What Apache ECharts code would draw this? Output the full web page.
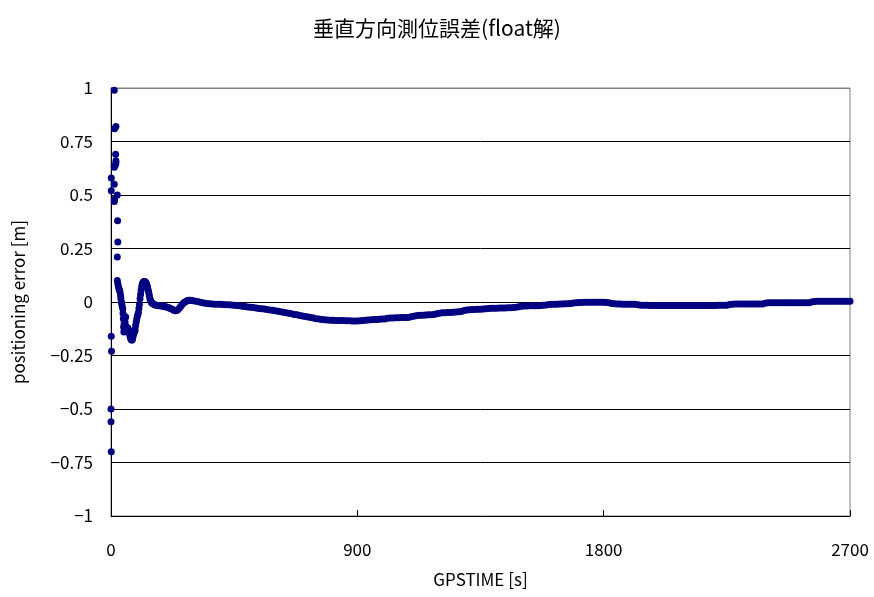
<!DOCTYPE html>
<html>
<head>
<meta charset="utf-8">
<script src="https://cdn.jsdelivr.net/npm/echarts@6/dist/echarts.min.js"></script>
<style>
html,body{margin:0;padding:0;background:#fff;}
#chart{width:874px;height:597px;}
</style>
</head>
<body>
<div id="chart"></div>
<script>
// Initial scattered epochs (time [s], error [m])
const outlierTime = [0, 0, 1, 1, 2, 1, 1, 12, 13, 18, 17, 18, 18, 16, 12, 12, 23, 12, 13, 24, 25, 23];
const outlierError = [-0.50, -0.56, -0.70, -0.16, -0.23, 0.58, 0.52, 0.99, 0.81, 0.82, 0.69, 0.66, 0.65, 0.64, 0.63, 0.55, 0.50, 0.47, 0.48, 0.38, 0.28, 0.21];

// Early convergence (time [s], error [m])
const earlyTime = [23, 25, 27, 29, 31, 33, 35, 36, 38, 39, 41, 43, 44, 45, 46, 47, 48, 49, 50, 51, 52, 53, 54, 55, 57, 59, 61, 63, 65, 67, 69, 71, 73, 75, 77, 79, 81, 83, 85, 87, 88, 90, 92, 94, 96, 98, 100, 102, 104, 106, 108, 110, 112, 114, 116, 118, 120, 122, 124, 126, 128, 130, 132, 134, 136, 138, 140, 142, 144, 146, 148, 150, 153, 156, 160, 165, 170, 175, 180, 185, 190, 195, 200, 205, 210, 215, 220, 225, 230, 235, 240, 245, 250, 255, 260, 265, 270, 275, 280, 285, 290, 295];
const earlyError = [0.100, 0.085, 0.073, 0.063, 0.055, 0.047, 0.030, 0.016, 0.000, -0.007, -0.020, -0.031, -0.054, -0.078, -0.117, -0.140, -0.100, -0.130, -0.090, -0.093, -0.120, -0.110, -0.070, -0.125, -0.132, -0.128, -0.120, -0.124, -0.135, -0.146, -0.156, -0.166, -0.174, -0.178, -0.178, -0.170, -0.158, -0.148, -0.140, -0.135, -0.130, -0.110, -0.095, -0.080, -0.068, -0.060, -0.050, -0.030, -0.010, 0.015, 0.035, 0.055, 0.070, 0.082, 0.089, 0.093, 0.095, 0.096, 0.095, 0.093, 0.089, 0.084, 0.076, 0.065, 0.055, 0.043, 0.030, 0.016, 0.008, 0.002, -0.002, -0.005, -0.008, -0.010, -0.013, -0.015, -0.016, -0.017, -0.018, -0.019, -0.020, -0.021, -0.022, -0.024, -0.026, -0.029, -0.032, -0.035, -0.038, -0.041, -0.040, -0.035, -0.028, -0.020, -0.012, -0.005, 0.000, 0.004, 0.007, 0.008, 0.008, 0.007];

// Remaining session (time [s], error [m])
const mainTime = [300, 310, 320, 330, 340, 350, 360, 370, 380, 390, 400, 410, 420, 430, 440, 450, 460, 470, 480, 490, 500, 510, 520, 530, 540, 550, 560, 570, 580, 590, 600, 610, 620, 630, 640, 650, 660, 670, 680, 690, 700, 710, 720, 730, 740, 750, 760, 770, 780, 790, 800, 810, 820, 830, 840, 850, 860, 870, 880, 890, 900, 910, 920, 930, 940, 950, 960, 970, 980, 990, 1000, 1010, 1020, 1030, 1040, 1050, 1060, 1070, 1080, 1090, 1100, 1110, 1120, 1130, 1140, 1150, 1160, 1170, 1180, 1190, 1200, 1210, 1220, 1230, 1240, 1250, 1260, 1270, 1280, 1290, 1300, 1310, 1320, 1330, 1340, 1350, 1360, 1370, 1380, 1390, 1400, 1410, 1420, 1430, 1440, 1450, 1460, 1470, 1480, 1490, 1500, 1510, 1520, 1530, 1540, 1550, 1560, 1570, 1580, 1590, 1600, 1610, 1620, 1630, 1640, 1650, 1660, 1670, 1680, 1690, 1700, 1710, 1720, 1730, 1740, 1750, 1760, 1770, 1780, 1790, 1800, 1810, 1820, 1830, 1840, 1850, 1860, 1870, 1880, 1890, 1900, 1910, 1920, 1930, 1940, 1950, 1960, 1970, 1980, 1990, 2000, 2010, 2020, 2030, 2040, 2050, 2060, 2070, 2080, 2090, 2100, 2110, 2120, 2130, 2140, 2150, 2160, 2170, 2180, 2190, 2200, 2210, 2220, 2230, 2240, 2250, 2260, 2270, 2280, 2290, 2300, 2310, 2320, 2330, 2340, 2350, 2360, 2370, 2380, 2390, 2400, 2410, 2420, 2430, 2440, 2450, 2460, 2470, 2480, 2490, 2500, 2510, 2520, 2530, 2540, 2550, 2560, 2570, 2580, 2590, 2600, 2610, 2620, 2630, 2640, 2650, 2660, 2670, 2680, 2690, 2700];
const mainError = [0.006, 0.004, 0.001, -0.002, -0.005, -0.007, -0.008, -0.009, -0.010, -0.010, -0.011, -0.012, -0.013, -0.013, -0.014, -0.015, -0.016, -0.018, -0.020, -0.021, -0.023, -0.025, -0.026, -0.028, -0.030, -0.032, -0.033, -0.035, -0.037, -0.039, -0.041, -0.043, -0.045, -0.048, -0.050, -0.053, -0.055, -0.058, -0.060, -0.063, -0.065, -0.068, -0.070, -0.073, -0.075, -0.078, -0.080, -0.082, -0.083, -0.084, -0.085, -0.085, -0.086, -0.086, -0.087, -0.087, -0.088, -0.088, -0.089, -0.089, -0.089, -0.088, -0.087, -0.085, -0.084, -0.083, -0.082, -0.082, -0.081, -0.080, -0.079, -0.076, -0.075, -0.075, -0.074, -0.074, -0.073, -0.073, -0.072, -0.071, -0.068, -0.065, -0.063, -0.062, -0.062, -0.061, -0.060, -0.059, -0.058, -0.055, -0.052, -0.050, -0.050, -0.049, -0.049, -0.048, -0.047, -0.046, -0.044, -0.040, -0.037, -0.036, -0.035, -0.035, -0.034, -0.034, -0.033, -0.032, -0.030, -0.029, -0.029, -0.029, -0.028, -0.028, -0.028, -0.027, -0.027, -0.026, -0.025, -0.022, -0.020, -0.019, -0.019, -0.018, -0.018, -0.017, -0.017, -0.016, -0.015, -0.014, -0.012, -0.011, -0.010, -0.010, -0.009, -0.009, -0.008, -0.008, -0.007, -0.005, -0.003, -0.002, -0.002, -0.001, -0.001, -0.001, -0.001, -0.001, -0.001, -0.001, -0.001, -0.002, -0.004, -0.007, -0.008, -0.009, -0.009, -0.010, -0.010, -0.010, -0.011, -0.011, -0.012, -0.014, -0.015, -0.015, -0.015, -0.016, -0.016, -0.016, -0.016, -0.016, -0.016, -0.016, -0.016, -0.016, -0.016, -0.016, -0.016, -0.016, -0.016, -0.016, -0.016, -0.016, -0.016, -0.016, -0.016, -0.016, -0.016, -0.016, -0.016, -0.016, -0.015, -0.015, -0.015, -0.015, -0.012, -0.010, -0.009, -0.009, -0.009, -0.009, -0.009, -0.009, -0.009, -0.009, -0.009, -0.009, -0.009, -0.006, -0.004, -0.003, -0.003, -0.003, -0.003, -0.003, -0.003, -0.003, -0.003, -0.003, -0.003, -0.003, -0.003, -0.003, -0.003, -0.003, 0.000, 0.002, 0.003, 0.003, 0.003, 0.003, 0.003, 0.003, 0.003, 0.003, 0.003, 0.003, 0.003, 0.003, 0.003, 0.003, 0.003];

const yTicks = [-1, -0.75, -0.5, -0.25, 0, 0.25, 0.5, 0.75, 1];
const xTicks = [0, 900, 1800, 2700];

function pairs(t, v) { return t.map((x, i) => [x, v[i]]); }
const seriesData = pairs(outlierTime, outlierError)
  .concat(pairs(earlyTime, earlyError))
  .concat(pairs(mainTime, mainError));

const FONT = '"Noto Sans CJK JP", "Noto Sans", sans-serif';
const chart = echarts.init(document.getElementById('chart'), null, {renderer: 'canvas'});
chart.setOption({
  animation: false,
  backgroundColor: '#ffffff',
  title: {
    text: '垂直方向測位誤差(float解)',
    left: 'center',
    top: 13,
    textStyle: {fontFamily: FONT, fontSize: 21, fontWeight: 'normal', color: '#000'}
  },
  grid: {left: 111, right: 24, top: 88, bottom: 81, show: true, borderColor: '#808080', borderWidth: 1, backgroundColor: '#fff'},
  xAxis: {
    type: 'value', min: 0, max: 2700, interval: 900,
    name: 'GPSTIME [s]', nameLocation: 'middle', nameGap: 55,
    nameTextStyle: {fontFamily: FONT, fontSize: 17, color: '#000'},
    axisLine: {show: true, onZero: false, lineStyle: {color: '#000', width: 1}},
    axisTick: {show: true, inside: true, length: 6, lineStyle: {color: '#000'}},
    axisLabel: {fontFamily: FONT, fontSize: 17, color: '#000', margin: 25,
      formatter: v => xTicks.includes(v) ? String(v) : ''},
    splitLine: {show: false}
  },
  yAxis: {
    type: 'value', min: -1, max: 1, interval: 0.25,
    name: 'positioning error [m]', nameLocation: 'middle', nameGap: 84, nameRotate: 90,
    nameTextStyle: {fontFamily: FONT, fontSize: 17, color: '#000'},
    axisLine: {show: true, onZero: false, lineStyle: {color: '#000', width: 1}},
    axisTick: {show: true, inside: true, length: 4, lineStyle: {color: '#000'}},
    axisLabel: {fontFamily: FONT, fontSize: 17, color: '#000', margin: 18,
      formatter: v => yTicks.includes(v) ? String(v).replace('-', '\u2212') : ''},
    splitLine: {show: true, lineStyle: {color: ['#000', '#000', '#000', '#000', '#000', '#000', '#000', '#000', '#808080'], width: 1}}
  },
  series: [{
    type: 'scatter',
    data: seriesData,
    symbol: 'circle',
    symbolSize: 7,
    itemStyle: {color: '#000080', opacity: 1},
    large: false
  }]
});
</script>
</body>
</html>
